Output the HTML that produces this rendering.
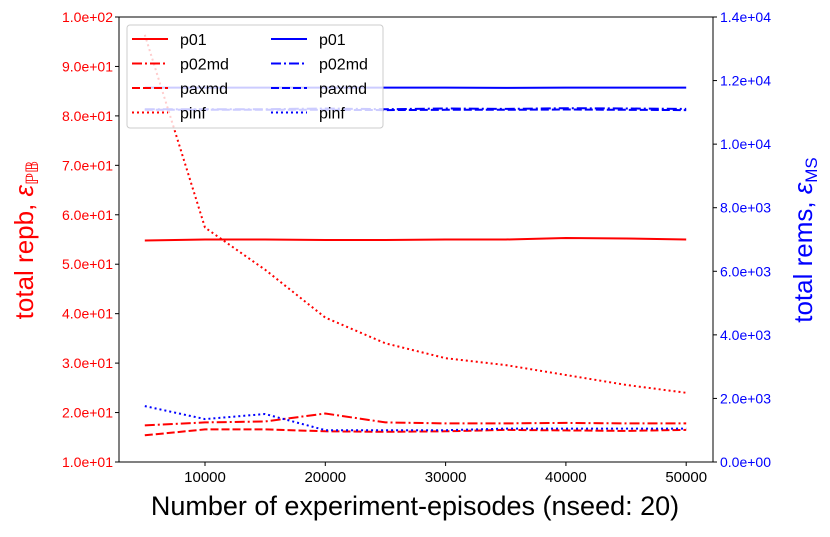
<!DOCTYPE html>
<html><head><meta charset="utf-8"><style>
body{margin:0;background:#fff;}
svg{font-family:"Liberation Sans","DejaVu Sans",sans-serif;}
</style></head><body>
<svg id="c" width="830" height="532">
<g id="plot"></g>
</svg>
<script>
const xs=[5000,10000,15000,20000,25000,30000,35000,40000,45000,50000];
const redP01=[54.8,55,55,54.9,54.9,55,55,55.3,55.2,55];
const redP02md=[17.4,18,18.2,19.8,18,17.8,17.8,17.9,17.8,17.8];
const redPaxmd=[15.4,16.6,16.6,16.2,16.1,16.2,16.5,16.4,16.3,16.5];
const redPinf=[96.4,57.4,48.9,39.2,34,31,29.6,27.6,25.6,24];
const blueP01=[11780,11780,11780,11780,11780,11780,11770,11780,11780,11780];
const blueP02md=[11100,11100,11100,11120,11100,11120,11110,11130,11120,11110];
const bluePaxmd=[11080,11080,11080,11080,11070,11080,11080,11090,11080,11070];
const bluePinf=[1760,1350,1510,1000,1000,1000,1050,1050,1050,1050];
const xTicks=[10000,20000,30000,40000,50000];
const yLTicks=[10,20,30,40,50,60,70,80,90,100];
const yRTicks=[0,2000,4000,6000,8000,10000,12000,14000];
const L=119,R=713,T=17,B=462;
const X=v=>205+(v-10000)/10000*120.3;
const YL=v=>B-(v-10)/90*(B-T);
const YR=v=>B-v/14000*(B-T);
const NS="http://www.w3.org/2000/svg";
const g=document.getElementById('plot');
function mk(t,a,p){const e=document.createElementNS(NS,t);for(const k in a)e.setAttribute(k,a[k]);(p||g).appendChild(e);return e;}
function fmt(v){if(v===0)return "0.0e+00";const ex=Math.floor(Math.log10(v));return (v/Math.pow(10,ex)).toFixed(1)+"e+"+String(ex).padStart(2,"0");}
const styles={solid:"",dashdot:"10,3,2,3",dash:"8,3",dot:"2,3"};
function series(vals,Y,col,st,name){
 const pts=xs.map((x,i)=>X(x).toFixed(1)+","+Y(vals[i]).toFixed(1)).join(" ");
 const p=mk('polyline',{points:pts,fill:"none",stroke:col,"stroke-width":2,"stroke-dasharray":styles[st]});
 
 
}
series(redP01,YL,"#f00","solid","line-red-p01");
series(redP02md,YL,"#f00","dashdot","line-red-p02md");
series(redPaxmd,YL,"#f00","dash","line-red-paxmd");
series(redPinf,YL,"#f00","dot","line-red-pinf");
series(blueP01,YR,"#00f","solid","line-blue-p01");
series(blueP02md,YR,"#00f","dashdot","line-blue-p02md");
series(bluePaxmd,YR,"#00f","dash","line-blue-paxmd");
series(bluePinf,YR,"#00f","dot","line-blue-pinf");
const ax=mk('rect',{x:L,y:T,width:R-L,height:B-T,fill:"none",stroke:"#000","stroke-width":1});

xTicks.forEach(v=>{const x=X(v);mk('line',{x1:x,x2:x,y1:B,y2:B+4,stroke:"#000"});
 const t=mk('text',{x:x,y:B+20,"text-anchor":"middle","font-size":15});t.textContent=v;
 });
yLTicks.forEach(v=>{const y=YL(v);mk('line',{x1:L-4,x2:L,y1:y,y2:y,stroke:"#000"});
 const t=mk('text',{x:L-6,y:y+5,"text-anchor":"end","font-size":14,fill:"#f00"});t.textContent=fmt(v);
 });
yRTicks.forEach(v=>{const y=YR(v);mk('line',{x1:R,x2:R+4,y1:y,y2:y,stroke:"#000"});
 const t=mk('text',{x:R+7,y:y+5,"font-size":14,fill:"#00f"});t.textContent=fmt(v);
 });
let t=mk('text',{x:415,y:515,"text-anchor":"middle","font-size":27});t.textContent="Number of experiment-episodes (nseed: 20)";

t=mk('text',{transform:"translate(33,240) rotate(-90)","text-anchor":"middle","font-size":26,fill:"#f00"});
t.innerHTML='total repb, <tspan font-style="italic">ε</tspan><tspan font-size="17" dy="5" font-style="italic">ℙ𝔹</tspan>';

t=mk('text',{transform:"translate(812,240) rotate(-90)","text-anchor":"middle","font-size":26,fill:"#00f"});
t.innerHTML='total rems, <tspan font-style="italic">ε</tspan><tspan font-size="17" dy="5">MS</tspan>';

const lg=mk('g',{});
mk('rect',{x:127,y:25,width:256,height:103,rx:3,fill:"#fff","fill-opacity":0.8,stroke:"#ccc"},lg);
const names=["p01","p02md","paxmd","pinf"],sts=["solid","dashdot","dash","dot"];
names.forEach((n,i)=>{const y=39+i*24.5;
 [["#f00",132,180],["#00f",271,319]].forEach(([c,x0,tx])=>{
  mk('line',{x1:x0,x2:x0+36,y1:y,y2:y,stroke:c,"stroke-width":2,"stroke-dasharray":styles[sts[i]]},lg);
  const e=mk('text',{x:tx,y:y+6,"font-size":16},lg);e.textContent=n;
  });
});
</script>
</body></html>
